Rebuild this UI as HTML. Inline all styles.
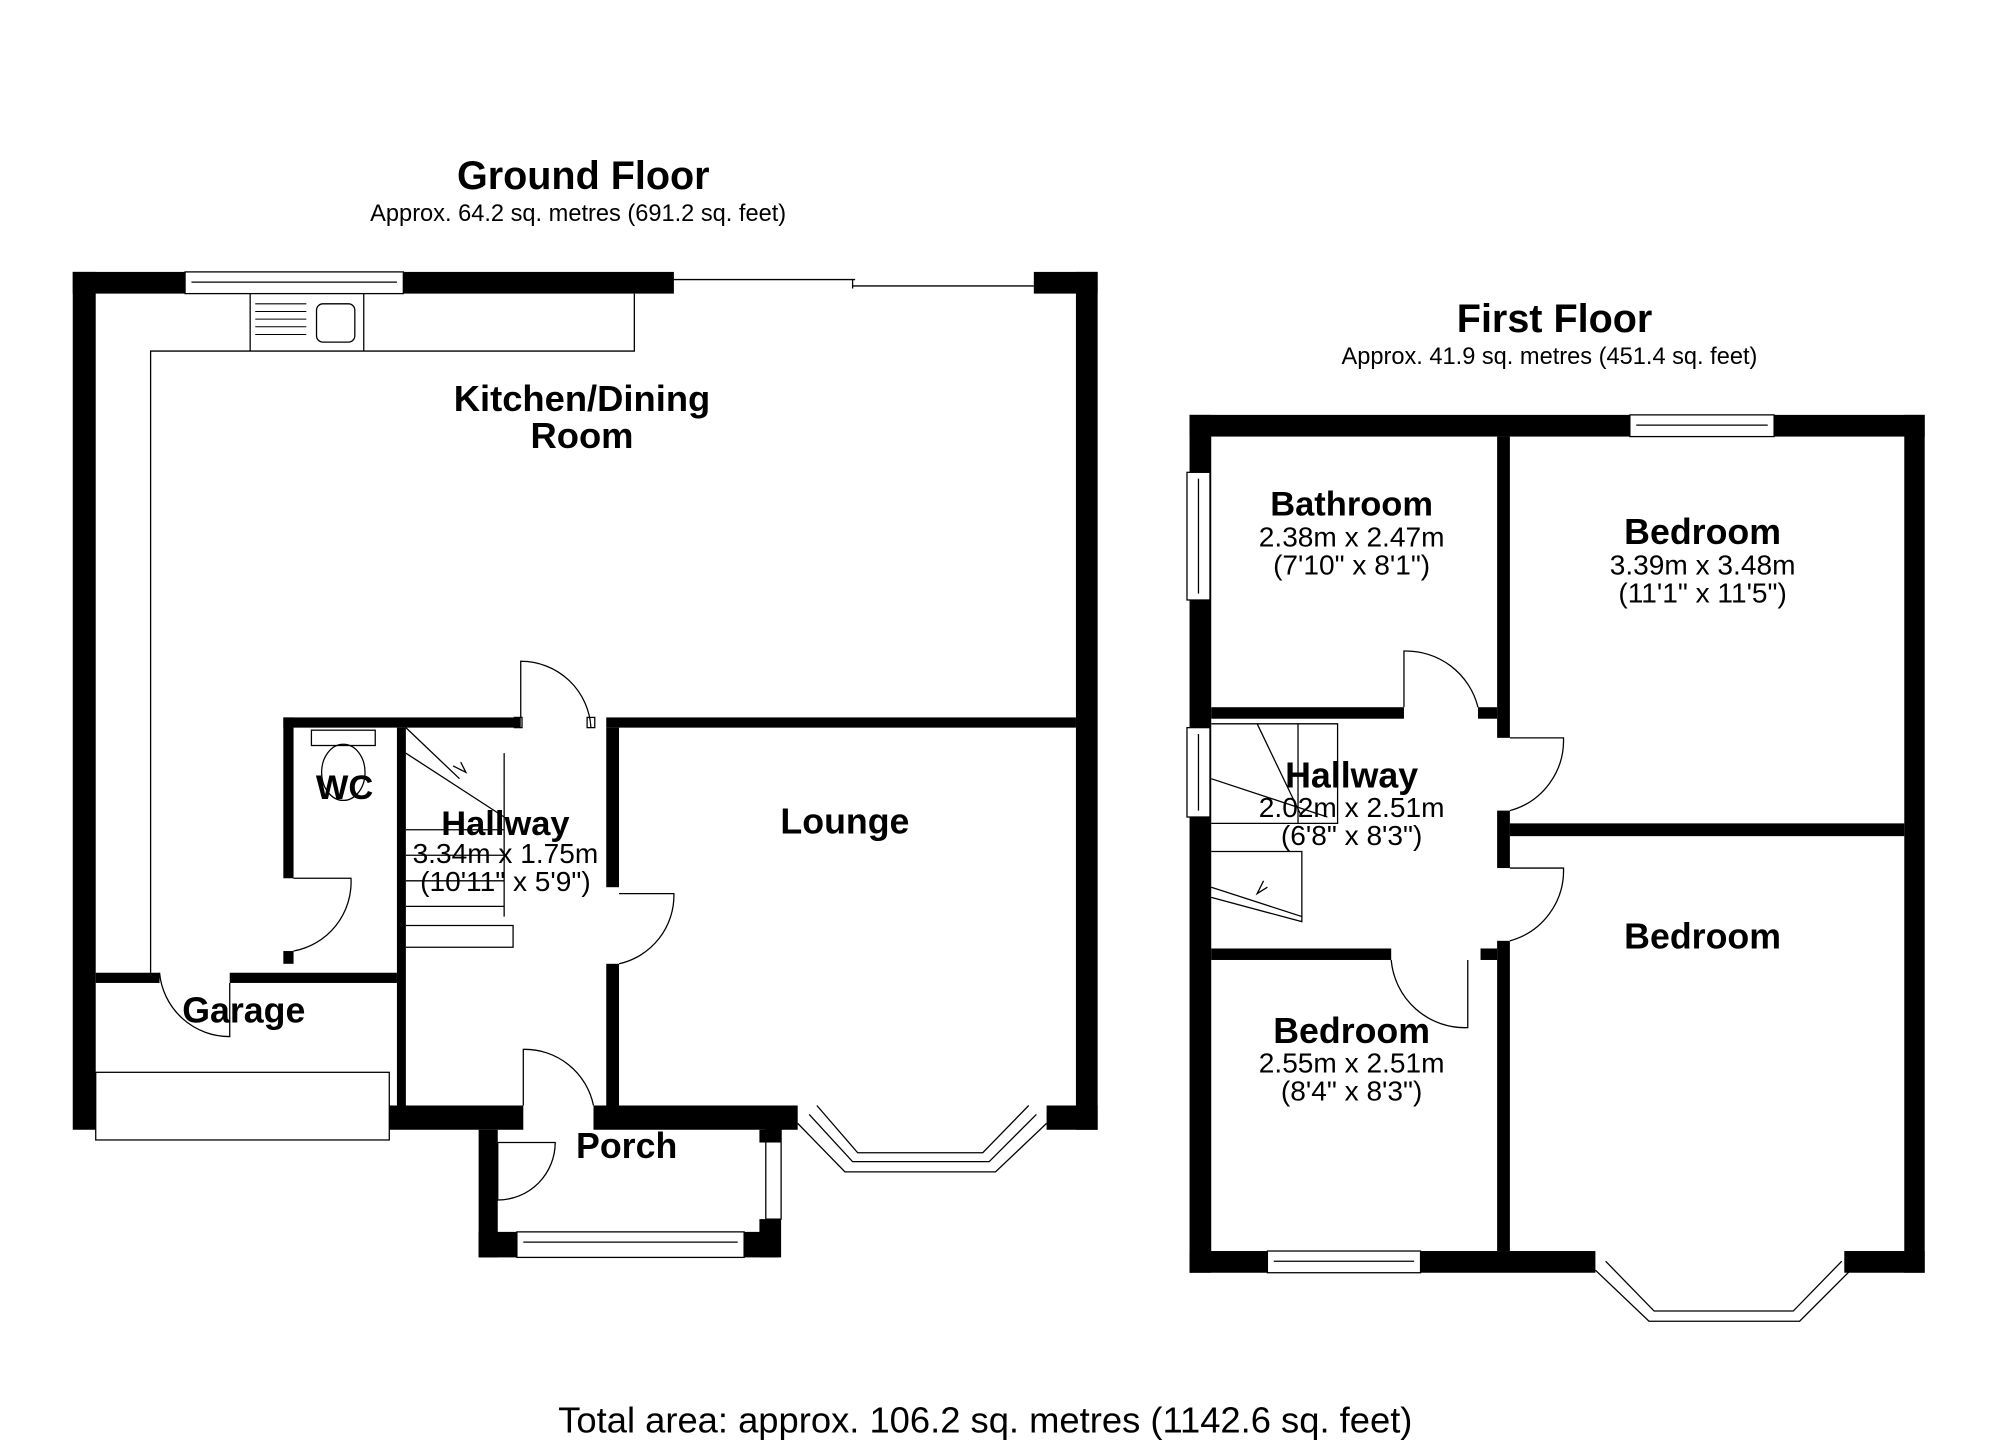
<!DOCTYPE html>
<html><head><meta charset="utf-8"><style>html,body{margin:0;padding:0;background:#fff}svg{display:block}</style></head>
<body>
<svg width="2000" height="1454" viewBox="0 0 1567 1139" preserveAspectRatio="none" xmlns="http://www.w3.org/2000/svg" font-family="Liberation Sans, Arial, sans-serif">
<rect width="1567" height="1139" fill="#fff"/>
<g fill="#000" text-anchor="middle">
<text x="457" y="148" font-size="31" font-weight="bold">Ground Floor</text>
<text x="453" y="173" font-size="18.5">Approx. 64.2 sq. metres (691.2 sq. feet)</text>
<text x="1218" y="260" font-size="31" font-weight="bold">First Floor</text>
<text x="1214" y="285" font-size="18.5">Approx. 41.9 sq. metres (451.4 sq. feet)</text>
<text x="772" y="1122" font-size="28.5">Total area: approx. 106.2 sq. metres (1142.6 sq. feet)</text>
</g>
<!-- Ground floor walls -->
<g fill="#000">
<rect x="57" y="213" width="88" height="17"/>
<rect x="316" y="213" width="212" height="17"/>
<rect x="810" y="213" width="50" height="17"/>
<rect x="57" y="213" width="18" height="672"/>
<rect x="843" y="213" width="17" height="672"/>
<rect x="305" y="866" width="105" height="19"/>
<rect x="465" y="866" width="160" height="19"/>
<rect x="820" y="866" width="40" height="19"/>
<rect x="222" y="562" width="186" height="8"/>
<rect x="475" y="562" width="368" height="8"/>
<rect x="222" y="562" width="8" height="126"/>
<rect x="311" y="570" width="7" height="296"/>
<rect x="475" y="570" width="10" height="125"/>
<rect x="475" y="755" width="10" height="111"/>
<rect x="75" y="762" width="50" height="8"/>
<rect x="180" y="762" width="131" height="8"/>
<rect x="222" y="745" width="8" height="10"/>
<rect x="375" y="885" width="15" height="100"/>
<rect x="375" y="965" width="30" height="20"/>
<rect x="583" y="965" width="27" height="20"/>
<rect x="595" y="885" width="17" height="10"/>
<rect x="595" y="955" width="17" height="30"/>
</g>
<g fill="none" stroke="#000" stroke-width="1">
<rect x="145" y="213" width="171" height="17"/><line x1="150" y1="221" x2="311" y2="221"/>
<line x1="528" y1="219" x2="670" y2="219"/><line x1="668" y1="224" x2="810" y2="224"/><line x1="668" y1="219" x2="668" y2="226"/>
<path d="M118 762 V275 H497 V230"/><line x1="196" y1="230" x2="196" y2="275"/><line x1="285" y1="230" x2="285" y2="275"/>
<g stroke-width="0.8"><line x1="200" y1="238" x2="240" y2="238"/><line x1="200" y1="244" x2="240" y2="244"/><line x1="200" y1="250" x2="240" y2="250"/><line x1="200" y1="256" x2="240" y2="256"/><line x1="200" y1="262" x2="240" y2="262"/></g>
<rect x="248" y="238" width="30" height="30" rx="5"/>
<rect x="75" y="840" width="230" height="53"/>
<rect x="244" y="572" width="50" height="12"/><ellipse cx="269" cy="605" rx="17" ry="22"/>
<path d="M408 562 V518 A55 55 0 0 1 463 570"/><rect x="403" y="562" width="6" height="8"/><rect x="460" y="562" width="6" height="8"/>
<path d="M485 700 H528 A55 55 0 0 1 485 755"/>
<path d="M230 688 H275 A55 55 0 0 1 230 745"/>
<path d="M125 762 A55 55 0 0 0 180 812 V770"/>
<path d="M410 866 V822 A55 55 0 0 1 465 866"/>
<path d="M390 895 V940 A45 45 0 0 0 435 895 Z"/>
<rect x="405" y="965" width="178" height="20"/><line x1="410" y1="973" x2="578" y2="973"/>
<rect x="600" y="885" width="12" height="70"/>
<path d="M318 570 L360 610 M318 590 L395 640 M318 650 H395 M318 670 H395 M318 690 H395 M318 710 H395 M318 725 H402 V742 H318 M395 590 V718 M355 600 l10 5 l-4 -8"/>
<path d="M625 880 L662 918 H780 L820 880 M634 873 L668 910 H775 L812 873 M640 866 L672 903 H770 L806 866"/>
</g>
<!-- First floor walls -->
<g fill="#000">
<rect x="932" y="325" width="345" height="17"/>
<rect x="1390" y="325" width="118" height="17"/>
<rect x="932" y="325" width="17" height="672"/>
<rect x="1492" y="325" width="16" height="672"/>
<rect x="932" y="980" width="61" height="17"/>
<rect x="1113" y="980" width="137" height="17"/>
<rect x="1445" y="980" width="63" height="17"/>
<rect x="1173" y="342" width="10" height="236"/>
<rect x="1173" y="635" width="10" height="45"/>
<rect x="1173" y="737" width="10" height="243"/>
<rect x="949" y="554" width="151" height="9"/>
<rect x="1158" y="554" width="15" height="9"/>
<rect x="1183" y="645" width="309" height="10"/>
<rect x="949" y="743" width="141" height="9"/>
<rect x="1160" y="743" width="13" height="9"/>
</g>
<g fill="#fff" stroke="#000" stroke-width="1">
<rect x="1277" y="325" width="113" height="17"/>
<rect x="930" y="370" width="18" height="100"/>
<rect x="930" y="570" width="18" height="70"/>
<rect x="993" y="980" width="120" height="17"/>
</g>
<g fill="none" stroke="#000" stroke-width="1">
<line x1="1282" y1="333" x2="1385" y2="333"/><line x1="939" y1="375" x2="939" y2="465"/><line x1="939" y1="575" x2="939" y2="635"/><line x1="998" y1="988" x2="1108" y2="988"/>
<path d="M1100 554 V510 A58 58 0 0 1 1158 554"/>
<path d="M1183 578 H1225 A57 57 0 0 1 1183 635"/>
<path d="M1183 680 H1225 A57 57 0 0 1 1183 737"/>
<path d="M1090 752 A58 58 0 0 0 1150 805 V752"/>
<path d="M949 567 H1048 V645 H949 M985 567 L1020 640 M1017 567 V645 M949 610 L1040 640 M949 695 L1020 718 V722 L949 703 M949 667 H1020 V720 M990 690 l-5 10 l8 -5"/>
<path d="M1250 995 L1292 1035 H1410 L1450 995 M1258 988 L1296 1027 H1405 L1443 988"/>
</g>
<g fill="#000" text-anchor="middle">
<text x="456" y="322" font-size="28.5" font-weight="bold">Kitchen/Dining</text>
<text x="456" y="351" font-size="28.5" font-weight="bold">Room</text>
<text x="270" y="626" font-size="27" font-weight="bold">WC</text>
<text x="396" y="654" font-size="27" font-weight="bold">Hallway</text>
<text x="396" y="676" font-size="22">3.34m x 1.75m</text>
<text x="396" y="698" font-size="22">(10'11" x 5'9")</text>
<text x="662" y="653" font-size="28" font-weight="bold">Lounge</text>
<text x="191" y="801" font-size="28" font-weight="bold">Garage</text>
<text x="491" y="907" font-size="28" font-weight="bold">Porch</text>
<text x="1059" y="404" font-size="27" font-weight="bold">Bathroom</text>
<text x="1059" y="428" font-size="22">2.38m x 2.47m</text>
<text x="1059" y="450" font-size="22">(7'10" x 8'1")</text>
<text x="1334" y="426" font-size="28" font-weight="bold">Bedroom</text>
<text x="1334" y="450" font-size="22">3.39m x 3.48m</text>
<text x="1334" y="472" font-size="22">(11'1" x 11'5")</text>
<text x="1059" y="617" font-size="28" font-weight="bold">Hallway</text>
<text x="1059" y="640" font-size="22">2.02m x 2.51m</text>
<text x="1059" y="662" font-size="22">(6'8" x 8'3")</text>
<text x="1334" y="743" font-size="28" font-weight="bold">Bedroom</text>
<text x="1059" y="817" font-size="28" font-weight="bold">Bedroom</text>
<text x="1059" y="840" font-size="22">2.55m x 2.51m</text>
<text x="1059" y="862" font-size="22">(8'4" x 8'3")</text>
</g>
</svg>
</body></html>
